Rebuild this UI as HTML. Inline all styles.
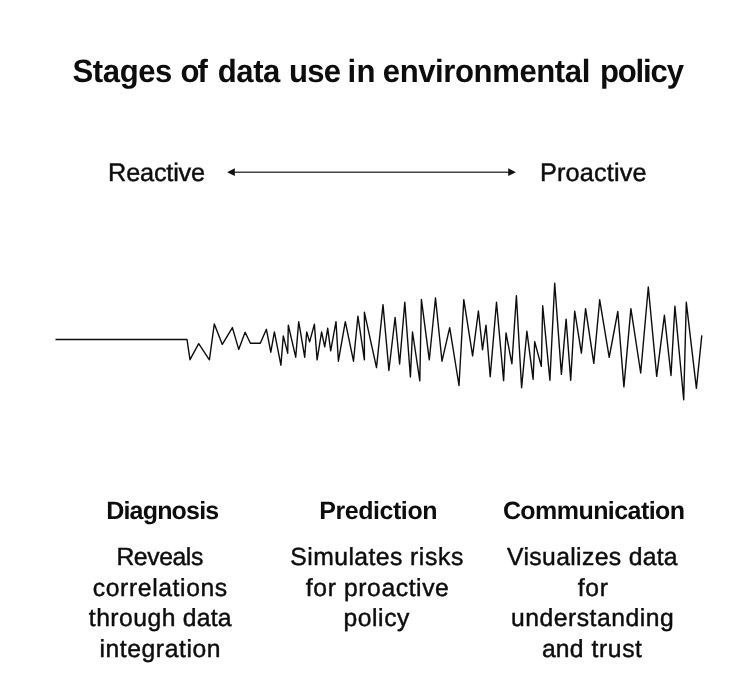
<!DOCTYPE html>
<html lang="en"><head><meta charset="utf-8"><title>Stages of data use in environmental policy</title>
<style>
html,body{margin:0;padding:0;background:#fff;}
body{width:750px;height:681px;position:relative;overflow:hidden;text-rendering:geometricPrecision;font-family:"Liberation Sans",sans-serif;color:#0d0d0d;}
h1,h2,p,div{margin:0;padding:0;font-weight:normal;}
.r span{-webkit-text-stroke:0.45px #0d0d0d;}
.b{font-weight:bold;}
.b span{-webkit-text-stroke:0px #0d0d0d;}
span{position:absolute;white-space:nowrap;line-height:1;}
svg{position:absolute;left:0;top:0;}
</style></head><body>
<svg width="750" height="681" viewBox="0 0 750 681">
<polyline fill="none" stroke="#0d0d0d" stroke-width="1.4" stroke-linejoin="round" stroke-linecap="butt" points="55.5,339.5 187.0,339.5 190.0,359.7 198.7,343.7 209.4,359.8 214.3,323.9 222.3,344.4 232.4,327.6 238.7,349.4 245.1,332.2 250.4,343.3 260.3,343.3 266.4,329.3 270.8,352.2 274.4,331.9 280.9,365.2 283.3,335.9 287.7,353.2 288.3,325.2 295.7,357.2 298.7,321.6 304.7,357.2 306.7,331.9 309.6,341.9 314.4,324.3 317.1,359.9 321.6,331.9 324.7,346.9 327.7,328.3 330.7,350.9 336.0,321.6 338.4,361.2 345.3,321.6 353.5,361.2 357.9,316.2 364.4,359.8 364.4,312.3 376.5,367.6 383.0,304.6 388.9,370.5 395.1,317.5 399.6,364.0 404.8,302.2 410.4,377.0 412.5,332.0 419.8,380.8 421.4,299.4 429.3,359.8 435.5,298.0 442.0,361.2 449.7,327.7 459.0,385.5 463.8,299.6 472.6,355.9 478.4,311.0 482.5,349.7 486.0,325.1 490.2,376.7 496.5,302.2 503.6,380.6 506.0,333.0 511.9,363.8 516.4,295.7 521.6,387.7 526.9,331.3 533.1,379.2 534.7,341.6 541.3,366.4 542.7,305.7 549.9,380.2 554.7,283.2 561.4,374.4 566.1,319.1 570.7,380.2 574.7,311.1 581.4,353.1 585.6,308.6 593.8,363.4 599.7,299.8 609.2,357.3 617.8,311.5 623.9,386.9 630.9,308.6 640.7,373.0 648.3,287.0 656.7,376.4 664.4,315.3 671.0,375.5 674.9,306.1 683.7,399.7 686.3,302.3 696.4,388.3 701.8,335.4"/>
<line x1="231.1" y1="172.2" x2="511.9" y2="172.2" stroke="#444" stroke-width="1.6"/>
<polygon fill="#111" points="227.1,172.2 234.79,168.29 234.79,176.1"/>
<polygon fill="#111" points="515.9,172.2 508.2,168.29 508.2,176.1"/>
</svg>
<h1 class="b" style="font-size:31.1px"><span style="left:72.54px;top:55.67px;letter-spacing:-0.418px;transform:scale(1,1.033);transform-origin:0 26.33px;">Stages</span> <span style="left:180.43px;top:55.67px;letter-spacing:-1.794px;transform:scale(1,1.033);transform-origin:0 26.33px;">of</span> <span style="left:217.71px;top:55.67px;letter-spacing:-0.427px;transform:scale(1,1.033);transform-origin:0 26.33px;">data</span> <span style="left:288.88px;top:55.67px;letter-spacing:-0.675px;transform:scale(1,1.033);transform-origin:0 26.33px;">use</span> <span style="left:347.62px;top:55.67px;letter-spacing:0.284px;transform:scale(1,1.033);transform-origin:0 26.33px;">in</span> <span style="left:382.79px;top:55.67px;letter-spacing:-0.416px;transform:scale(1,1.033);transform-origin:0 26.33px;">environmental</span> <span style="left:599.89px;top:55.67px;letter-spacing:-1.134px;transform:scale(1,1.033);transform-origin:0 26.33px;">policy</span></h1>
<div class="r" style="font-size:25.3px"><span style="left:108.12px;top:160.93px;letter-spacing:-0.207px;">Reactive</span></div>
<div class="r" style="font-size:25.3px"><span style="left:539.93px;top:160.91px;letter-spacing:0.143px;">Proactive</span></div>
<h2 class="b" style="font-size:25.0px"><span style="left:106.23px;top:499.40px;letter-spacing:-0.811px;">Diagnosis</span></h2>
<h2 class="b" style="font-size:25.0px"><span style="left:319.17px;top:499.40px;letter-spacing:-0.434px;">Prediction</span></h2>
<h2 class="b" style="font-size:25.0px"><span style="left:502.89px;top:499.40px;letter-spacing:-0.557px;">Communication</span></h2>
<p class="r" style="font-size:24.7px"><span style="left:116.38px;top:546.25px;letter-spacing:-0.373px;">Reveals</span>
<span style="left:92.80px;top:577.26px;letter-spacing:0.617px;">correlations</span>
<span style="left:88.79px;top:606.75px;letter-spacing:0.499px;">through</span> <span style="left:182.65px;top:606.75px;letter-spacing:0.293px;">data</span>
<span style="left:99.38px;top:638.25px;letter-spacing:0.587px;">integration</span></p>
<p class="r" style="font-size:24.7px"><span style="left:290.33px;top:546.25px;letter-spacing:0.452px;">Simulates</span> <span style="left:409.97px;top:546.25px;letter-spacing:0.683px;">risks</span>
<span style="left:305.65px;top:577.26px;letter-spacing:0.712px;">for</span> <span style="left:344.03px;top:577.26px;letter-spacing:0.573px;">proactive</span>
<span style="left:343.50px;top:606.75px;letter-spacing:0.560px;">policy</span></p>
<p class="r" style="font-size:24.7px"><span style="left:507.07px;top:546.25px;letter-spacing:0.374px;">Visualizes</span> <span style="left:628.86px;top:546.25px;letter-spacing:0.222px;">data</span>
<span style="left:577.64px;top:577.26px;letter-spacing:0.810px;">for</span>
<span style="left:510.99px;top:606.75px;letter-spacing:0.514px;">understanding</span>
<span style="left:541.95px;top:638.25px;letter-spacing:0.165px;">and</span> <span style="left:591.58px;top:638.25px;letter-spacing:0.579px;">trust</span></p>
</body></html>
